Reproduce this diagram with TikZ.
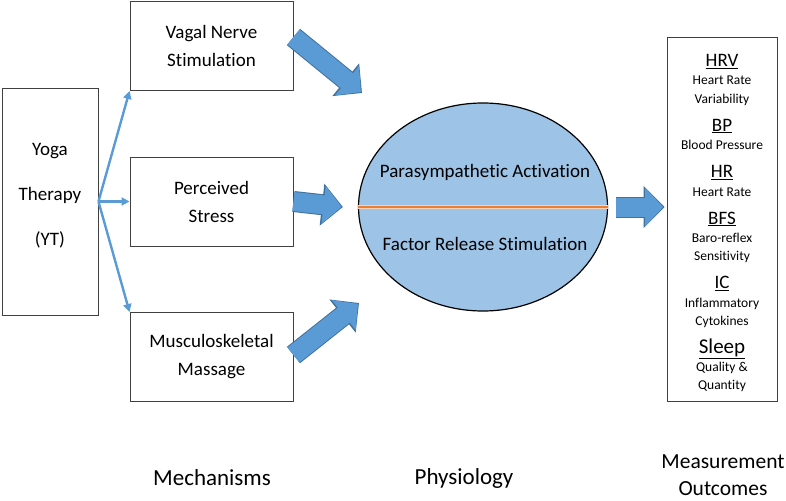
\documentclass[tikz,border=0pt]{standalone}
\usepackage{fontspec}
\setmainfont{Carlito}[Ligatures=NoCommon]
\usetikzlibrary{arrows.meta,shapes.geometric,positioning}
\definecolor{yogablue}{HTML}{5B9BD5}
\definecolor{yogadark}{HTML}{41719C}
\definecolor{physfill}{HTML}{9DC3E6}
\definecolor{splitorange}{HTML}{ED7D31}

\begin{document}
\begin{tikzpicture}[x=1pt,y=-1pt,
  box/.style={rectangle,draw=black!75,line width=0.9pt,minimum width=163pt,minimum height=89pt,align=center,font=\fontsize{19}{28}\selectfont},
  thin/.style={draw=yogablue,line width=2.4pt,-{Triangle[length=8pt,width=8pt]}},
  fat/.style={preaction={draw=yogadark,line width=21pt,shorten >=0pt,-{Triangle[length=21pt,width=41pt]}},draw=yogablue,line width=19pt,shorten >=1.4pt,-{Triangle[length=18pt,width=37pt]}},
  hd/.style={anchor=base,yshift=-6.5pt,font=\fontsize{19}{19}\selectfont},
  hdbig/.style={anchor=base,yshift=-7pt,font=\fontsize{21}{21}\selectfont},
  sub/.style={anchor=base,yshift=-4.5pt,font=\fontsize{13.5}{13.5}\selectfont},
  caption/.style={align=center,font=\fontsize{23}{27}\selectfont}]
\useasboundingbox (0,0) rectangle (786,500);

% left column
\node[box,minimum width=96pt,minimum height=227pt,text depth=14pt,font=\fontsize{19}{45}\selectfont] (yoga) at (50,201.5) {Yoga\\Therapy\\(YT)};
\node[box] (vagal) at (211.5,46) {Vagal Nerve\\Stimulation};
\node[box] (stress) at (211.5,201.5) {Perceived\\Stress};
\node[box] (massage) at (211.5,357) {Musculoskeletal\\Massage};

\draw[thin] (yoga.east) -- (vagal.south west);
\draw[thin] (yoga.east) -- (stress.west);
\draw[thin] (yoga.east) -- (massage.north west);

% physiology
\node[ellipse,draw,line width=1.2pt,fill=physfill,minimum width=249pt,minimum height=208pt] (phys) at (483,207) {};
\draw[draw=splitorange!35,double=splitorange,double distance=2.4pt,line width=0.8pt] (phys.west) -- (phys.east);
\node[font=\fontsize{19}{19}\selectfont] (para) at (485,172) {Parasympathetic Activation};
\node[font=\fontsize{19}{19}\selectfont] (factor) at (485,244) {Factor Release Stimulation};

% outcomes
\node[draw=black!75,line width=0.9pt,minimum width=110pt,minimum height=364pt] (outcomes) at (722,219) {};
\foreach \ypos/\txt/\kind [count=\i] in {60/\underline{HRV}/hd, 80.5/Heart Rate/sub, 98.5/Variability/sub,
    124.5/\underline{BP}/hd, 145/Blood Pressure/sub, 171/\underline{HR}/hd, 191.5/Heart Rate/sub,
    217.5/\underline{BFS}/hd, 238/Baro-reflex/sub, 256/Sensitivity/sub,
    282/\underline{IC}/hd, 302.5/Inflammatory/sub, 320.5/Cytokines/sub,
    346.5/\underline{Sleep}/hdbig, 367/Quality \&/sub, 385/Quantity/sub}
  \node[\kind] (item\i) at (722,\ypos) {\txt};

% block arrows
\coordinate (tipA) at (362,93);
\coordinate (tipB) at (359,303);
\coordinate (outin) at (phys.east -| outcomes.west);
\draw[fat] ([yshift=9pt]vagal.east) -- (tipA);
\draw[fat] (stress.east) -- ([xshift=-15pt]phys.west);
\draw[fat] ([yshift=2pt]massage.east) -- (tipB);
\draw[fat] ([xshift=8pt]phys.east) -- ([xshift=-2pt]outin);

% column captions
\node[caption] (mech) at (212,478) {Mechanisms};
\node[caption] (physcap) at (464,478) {Physiology};
\node[caption,font=\fontsize{21.5}{27}\selectfont] (meas) at (723,475) {Measurement\\Outcomes};
\end{tikzpicture}
\end{document}
